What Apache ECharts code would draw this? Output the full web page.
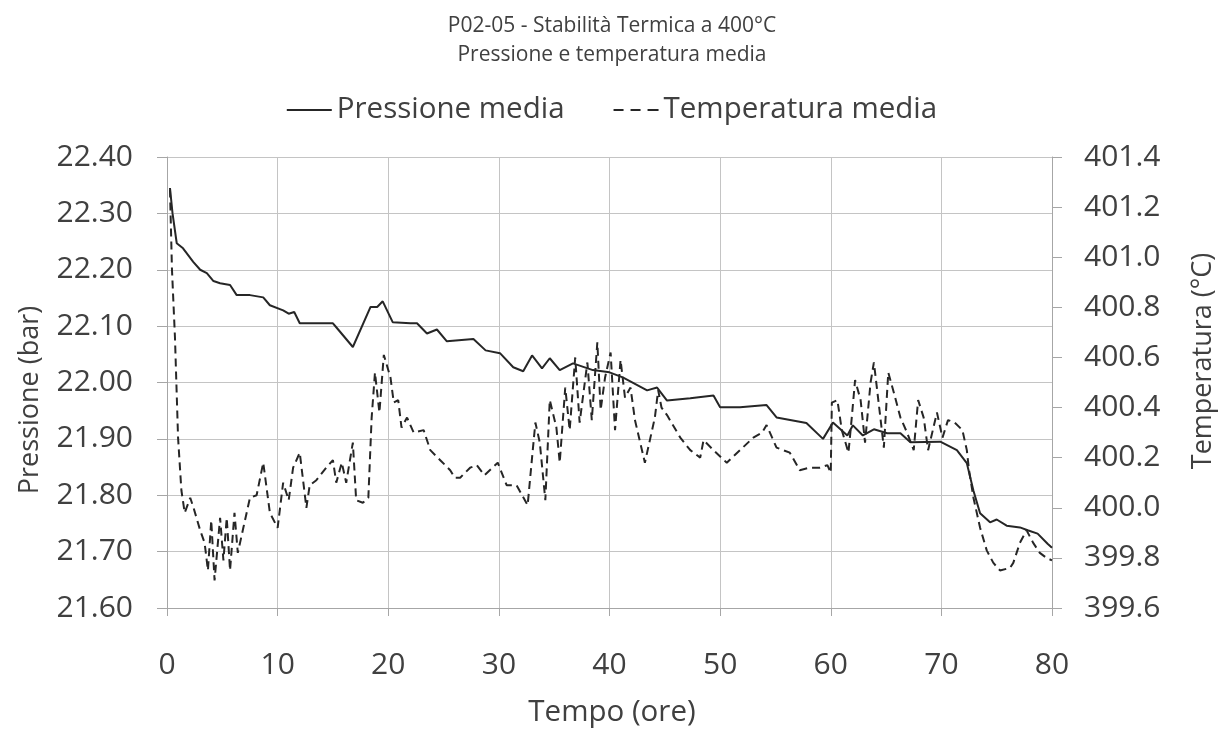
<!DOCTYPE html>
<html>
<head>
<meta charset="utf-8">
<script src="https://cdn.jsdelivr.net/npm/echarts@6/dist/echarts.min.js"></script>
<style>
html,body{margin:0;padding:0;background:#fff;}
#chart{width:1224px;height:737px;}
</style>
</head>
<body>
<div id="chart"></div>
<script>
// ---- Data ----
const titleLines = ["P02-05 - Stabilità Termica a 400°C", "Pressione e temperatura media"];
const seriesNames = ["Pressione media", "Temperatura media"];

const pressTime = [0.27,0.5,0.88,1.45,2.37,3.0,3.6,4.2,4.8,5.7,6.3,7.5,8.7,9.3,10.5,11.0,11.5,12.0,14.1,15.0,15.3,16.8,18.4,19.0,19.5,20.4,22.0,22.6,23.5,24.4,25.3,27.7,28.8,30.1,31.3,32.2,33.0,33.9,34.6,35.5,36.7,38.5,40.0,41.2,43.4,44.3,45.2,47.3,49.4,50.0,51.8,54.2,55.1,57.8,59.3,60.2,61.5,62.0,62.9,63.9,65.1,66.3,67.2,69.9,71.4,72.3,72.9,73.5,74.4,75.0,75.9,77.1,77.8,78.7,79.6,80.0];
const pressVal = [22.345,22.30,22.247,22.238,22.214,22.200,22.194,22.180,22.176,22.173,22.155,22.155,22.151,22.137,22.128,22.122,22.125,22.105,22.105,22.105,22.098,22.063,22.134,22.134,22.144,22.107,22.105,22.105,22.087,22.094,22.073,22.077,22.057,22.052,22.027,22.020,22.048,22.025,22.043,22.022,22.034,22.022,22.018,22.009,21.986,21.991,21.968,21.972,21.977,21.956,21.956,21.960,21.938,21.928,21.900,21.929,21.906,21.924,21.906,21.917,21.910,21.910,21.894,21.895,21.880,21.857,21.808,21.768,21.752,21.757,21.746,21.743,21.738,21.732,21.714,21.707];

const tempTime = [0.27,0.45,0.72,1.0,1.3,1.6,2.1,2.4,3.0,3.4,3.7,4.0,4.3,4.8,5.1,5.4,5.7,6.1,6.4,6.9,7.5,8.1,8.7,9.3,10.0,10.5,11.0,11.4,12.0,12.6,12.9,13.5,14.4,15.0,15.3,15.8,16.2,16.8,17.1,17.7,18.2,18.5,18.8,19.2,19.6,20.2,20.5,20.9,21.2,21.7,22.3,23.2,23.8,24.7,25.6,26.0,26.5,27.4,28.0,28.7,29.9,30.7,31.6,32.6,33.0,33.3,33.7,34.2,34.6,35.2,35.5,36.0,36.4,36.9,37.3,38.0,38.4,38.9,39.2,39.6,40.1,40.5,41.0,41.4,41.9,42.3,43.2,43.7,44.1,44.4,44.7,45.2,46.4,47.3,48.2,48.5,49.4,50.6,51.8,53.0,53.8,54.2,55.1,56.3,57.2,58.1,59.0,59.7,60.0,60.1,60.6,61.0,61.6,61.9,62.2,62.7,63.1,63.6,63.9,64.3,64.8,65.2,65.7,66.3,66.9,67.5,67.9,68.4,68.8,69.6,70.1,70.6,71.2,71.9,72.3,72.5,72.9,73.5,74.1,74.7,75.3,76.2,76.5,77.1,77.7,78.3,78.9,79.5,80.0];
const tempVal = [401.27,400.95,400.68,400.28,400.07,399.98,400.04,400.00,399.91,399.86,399.75,399.95,399.71,399.96,399.79,399.96,399.75,399.98,399.82,399.92,400.04,400.05,400.18,399.98,399.92,400.10,400.03,400.16,400.22,400.00,400.09,400.11,400.16,400.19,400.10,400.18,400.10,400.26,400.03,400.02,400.04,400.36,400.54,400.38,400.61,400.52,400.42,400.43,400.32,400.36,400.30,400.31,400.23,400.19,400.15,400.12,400.12,400.16,400.17,400.13,400.18,400.09,400.09,400.01,400.20,400.34,400.26,400.03,400.43,400.32,400.18,400.48,400.31,400.60,400.34,400.58,400.35,400.66,400.39,400.52,400.62,400.31,400.59,400.44,400.48,400.35,400.18,400.28,400.36,400.47,400.40,400.37,400.28,400.23,400.20,400.27,400.23,400.18,400.23,400.28,400.30,400.33,400.24,400.22,400.15,400.16,400.16,400.17,400.14,400.42,400.43,400.31,400.22,400.36,400.51,400.43,400.26,400.50,400.58,400.43,400.24,400.54,400.46,400.36,400.30,400.23,400.43,400.36,400.23,400.38,400.28,400.35,400.34,400.31,400.23,400.15,400.04,399.92,399.83,399.78,399.75,399.76,399.78,399.86,399.91,399.86,399.82,399.80,399.79];

const xAxisName = "Tempo (ore)";
const leftAxisName = "Pressione (bar)";
const rightAxisName = "Temperatura (°C)";

// ---- Chart ----
const FONT = "Open Sans";
const TXT = "#404040";
const LINE = "#262626";
const GRID = "#c4c4c4";
const AXIS = "#a6a6a6";
const chart = echarts.init(document.getElementById('chart'), null, {renderer: 'canvas'});

const pressData = pressTime.map((t, i) => [t, pressVal[i]]);
const tempData = tempTime.map((t, i) => [t, tempVal[i]]);

chart.setOption({
  animation: false,
  backgroundColor: '#ffffff',
  textStyle: {fontFamily: FONT},
  title: {
    text: titleLines.join('\n'),
    left: 'center',
    top: 7,
    textStyle: {fontFamily: FONT, fontSize: 21, fontWeight: 'normal', color: TXT, lineHeight: 29}
  },
  legend: {
    data: [
      {name: seriesNames[0], icon: 'path://M0,0h45v2h-45z'},
      {name: seriesNames[1], icon: 'path://M0,0h10v2h-10zM17,0h10v2h-10zM34,0h11v2h-11z'}
    ],
    left: 'center',
    top: 90,
    itemWidth: 45,
    itemHeight: 2,
    itemGap: 49,
    itemStyle: {color: LINE, borderWidth: 0},
    textStyle: {fontFamily: FONT, fontSize: 29.5, color: TXT}
  },
  grid: {left: 167, right: 172, top: 157, bottom: 129, containLabel: false},
  xAxis: {
    type: 'value',
    min: 0, max: 80, interval: 10,
    axisLine: {show: true, lineStyle: {color: AXIS, width: 1}},
    axisTick: {show: true, length: 8, lineStyle: {color: AXIS}},
    axisLabel: {fontFamily: FONT, fontSize: 30, color: TXT, margin: 42},
    splitLine: {show: true, lineStyle: {color: GRID, width: 1}}
  },
  yAxis: [
    {
      type: 'value',
      min: 21.6, max: 22.4, interval: 0.1,
      position: 'left',
      axisLine: {show: true, lineStyle: {color: AXIS, width: 1}},
      axisTick: {show: true, length: 10, lineStyle: {color: AXIS}},
      axisLabel: {fontFamily: FONT, fontSize: 30, color: TXT, margin: 34, formatter: v => v.toFixed(2)},
      splitLine: {show: true, lineStyle: {color: GRID, width: 1}}
    },
    {
      type: 'value',
      min: 399.6, max: 401.4, interval: 0.2,
      position: 'right',
      axisLine: {show: true, lineStyle: {color: AXIS, width: 1}},
      axisTick: {show: true, length: 10, lineStyle: {color: AXIS}},
      axisLabel: {fontFamily: FONT, fontSize: 30, color: TXT, margin: 32, formatter: v => v.toFixed(1)},
      splitLine: {show: false}
    }
  ],
  graphic: [
    {type: 'text', left: 'center', top: 698, style: {text: xAxisName, font: '29.5px "Open Sans"', fill: TXT}},
    {type: 'text', x: 30, y: 400, rotation: Math.PI / 2,
     style: {text: leftAxisName, font: '27px "Open Sans"', fill: TXT, align: 'center', verticalAlign: 'middle'}},
    {type: 'text', x: 1203, y: 361, rotation: Math.PI / 2,
     style: {text: rightAxisName, font: '27px "Open Sans"', fill: TXT, align: 'center', verticalAlign: 'middle'}}
  ],
  series: [
    {
      name: seriesNames[0], type: 'line', yAxisIndex: 0, data: pressData,
      symbol: 'none', smooth: false,
      lineStyle: {color: LINE, width: 2},
      itemStyle: {color: LINE}
    },
    {
      name: seriesNames[1], type: 'line', yAxisIndex: 1, data: tempData,
      symbol: 'none', smooth: false,
      lineStyle: {color: LINE, width: 2, type: [8, 5]},
      itemStyle: {color: LINE}
    }
  ]
});
</script>
</body>
</html>
